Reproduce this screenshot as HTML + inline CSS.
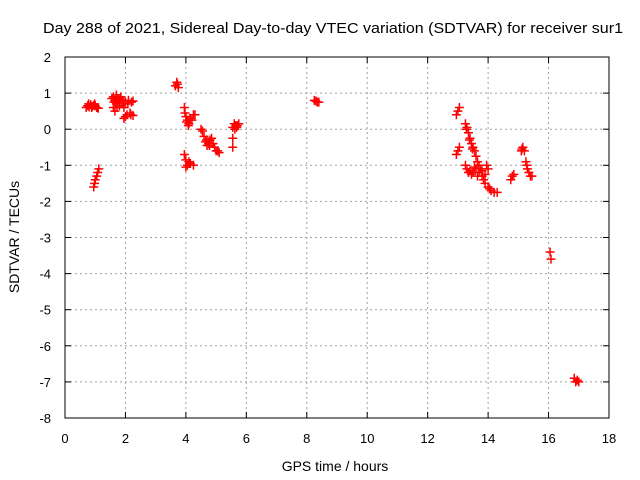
<!DOCTYPE html>
<html><head><meta charset="utf-8"><style>
body{margin:0;background:#fff}
svg{display:block;font-family:"Liberation Sans",sans-serif}
</style></head><body>
<svg id="chart" width="640" height="480" xmlns="http://www.w3.org/2000/svg">
<rect width="640" height="480" fill="#fff"/>
<text x="333" y="33" font-size="15" text-anchor="middle" textLength="580" lengthAdjust="spacingAndGlyphs">Day 288 of 2021, Sidereal Day-to-day VTEC variation (SDTVAR) for receiver sur1</text>
<text x="335" y="471" font-size="14" text-anchor="middle">GPS time / hours</text>
<text transform="translate(19,237) rotate(-90)" font-size="14" text-anchor="middle">SDTVAR / TECUs</text>
<g id="grid"></g><g id="ticks"></g><g id="marks"></g>
<rect x="65" y="57" width="544" height="361" fill="none" stroke="#000" stroke-width="1"/>
</svg>
<script>
const xTicks=[0,2,4,6,8,10,12,14,16,18];
const yTicks=[2,1,0,-1,-2,-3,-4,-5,-6,-7,-8];
const xs=[0.7,0.75,0.8,0.85,0.9,0.95,1.0,1.05,1.1,0.78,0.88,0.98,
0.95,0.98,1.0,1.05,1.08,1.12,
1.6,1.65,1.7,1.75,1.8,1.85,1.6,1.65,1.9,1.95,2.0,2.1,2.2,2.25,1.7,1.8,1.55,1.95,2.0,2.05,2.15,2.25,1.62,1.72,1.82,1.92,2.08,2.18,
3.65,3.7,3.72,3.75,
3.95,3.97,4.0,4.05,4.1,4.15,4.2,4.25,4.3,3.95,4.0,4.05,4.1,4.15,4.25,4.0,4.02,4.08,4.12,
4.5,4.55,4.6,4.65,4.7,4.75,4.8,4.85,4.9,4.95,5.0,5.05,5.1,4.68,4.78,
5.55,5.6,5.65,5.7,5.75,5.55,5.55,5.62,5.68,
8.25,8.3,8.35,8.4,
12.95,13.0,13.05,12.95,13.0,13.05,
13.25,13.3,13.35,13.4,13.45,13.5,13.55,13.6,13.65,13.28,13.38,13.48,
13.25,13.3,13.4,13.5,13.6,13.7,13.8,13.85,13.9,14.0,14.1,14.2,14.3,13.95,14.0,13.7,13.8,13.45,13.55,13.35,13.65,13.75,13.9,14.05,
14.75,14.8,14.85,
15.1,15.15,15.2,15.25,15.3,15.35,15.4,15.45,15.12,15.28,
16.05,16.08,
16.85,16.9,16.95,17.0];
const ys=[0.6,0.65,0.62,0.68,0.63,0.66,0.65,0.6,0.58,0.7,0.6,0.7,
-1.6,-1.5,-1.4,-1.3,-1.2,-1.1,
0.9,0.8,0.7,0.85,0.75,0.9,0.6,0.5,0.7,0.6,0.75,0.8,0.75,0.78,0.95,0.65,0.85,0.3,0.35,0.4,0.45,0.38,0.75,0.6,0.85,0.8,0.7,0.4,
1.2,1.3,1.25,1.15,
0.6,0.45,0.35,0.25,0.15,0.3,0.25,0.4,0.4,-0.7,-0.85,-1.0,-0.9,-0.95,-1.0,-1.05,0.2,0.1,-0.95,
0.0,-0.05,-0.2,-0.35,-0.45,-0.4,-0.3,-0.25,-0.4,-0.5,-0.6,-0.6,-0.65,-0.3,-0.45,
0.05,0.15,0.1,0.1,0.15,-0.25,-0.5,0.0,0.05,
0.8,0.78,0.75,0.75,
0.4,0.5,0.6,-0.7,-0.6,-0.5,
0.15,0.05,-0.1,-0.25,-0.4,-0.5,-0.6,-0.75,-0.9,0.0,-0.3,-0.55,
-1.0,-1.1,-1.15,-1.2,-1.1,-1.2,-1.3,-1.4,-1.5,-1.6,-1.7,-1.75,-1.75,-1.0,-1.1,-1.0,-1.15,-1.25,-1.05,-1.2,-1.3,-1.1,-1.25,-1.65,
-1.4,-1.3,-1.25,
-0.6,-0.5,-0.6,-0.9,-1.1,-1.2,-1.3,-1.3,-0.55,-1.0,
-3.4,-3.6,
-6.9,-7.0,-6.95,-7.0];
const NS="http://www.w3.org/2000/svg";
const X=v=>65+(v-0)*(544/18);
const Y=v=>57+(2-v)*(361/10);
function mk(t,a,p){const e=document.createElementNS(NS,t);for(const k in a)e.setAttribute(k,a[k]);p.appendChild(e);return e;}
const grid=document.getElementById('grid'),ticks=document.getElementById('ticks'),marks=document.getElementById('marks');
xTicks.forEach(t=>{
 const x=X(t);
 if(t>0&&t<18){const g=mk('line',{x1:x,x2:x,y1:57,y2:418,stroke:'#a0a0a0','stroke-dasharray':'2,3'},grid);
 
 }
 mk('line',{x1:x,x2:x,y1:418,y2:412,stroke:'#000'},ticks);
 mk('line',{x1:x,x2:x,y1:57,y2:63,stroke:'#000'},ticks);
 const l=mk('text',{x:x,y:443,'font-size':13,'text-anchor':'middle'},ticks);l.textContent=t;
 
 
});
yTicks.forEach(t=>{
 const y=Y(t);
 if(t<2&&t>-8){const g=mk('line',{x1:65,x2:609,y1:y,y2:y,stroke:'#a0a0a0','stroke-dasharray':'2,3'},grid);
 
 }
 mk('line',{x1:65,x2:71,y1:y,y2:y,stroke:'#000'},ticks);
 mk('line',{x1:603,x2:609,y1:y,y2:y,stroke:'#000'},ticks);
 const l=mk('text',{x:51,y:y+5,'font-size':13,'text-anchor':'end'},ticks);l.textContent=t;
 
 
});
xs.forEach((v,i)=>{
 const x=X(v),y=Y(ys[i]);
 const p=mk('path',{d:`M${x-4.5},${y}H${x+4.5}M${x},${y-4.5}V${y+4.5}`,stroke:'#f00','stroke-width':1.5,fill:'none'},marks);
 
 
});
</script>
</body></html>
